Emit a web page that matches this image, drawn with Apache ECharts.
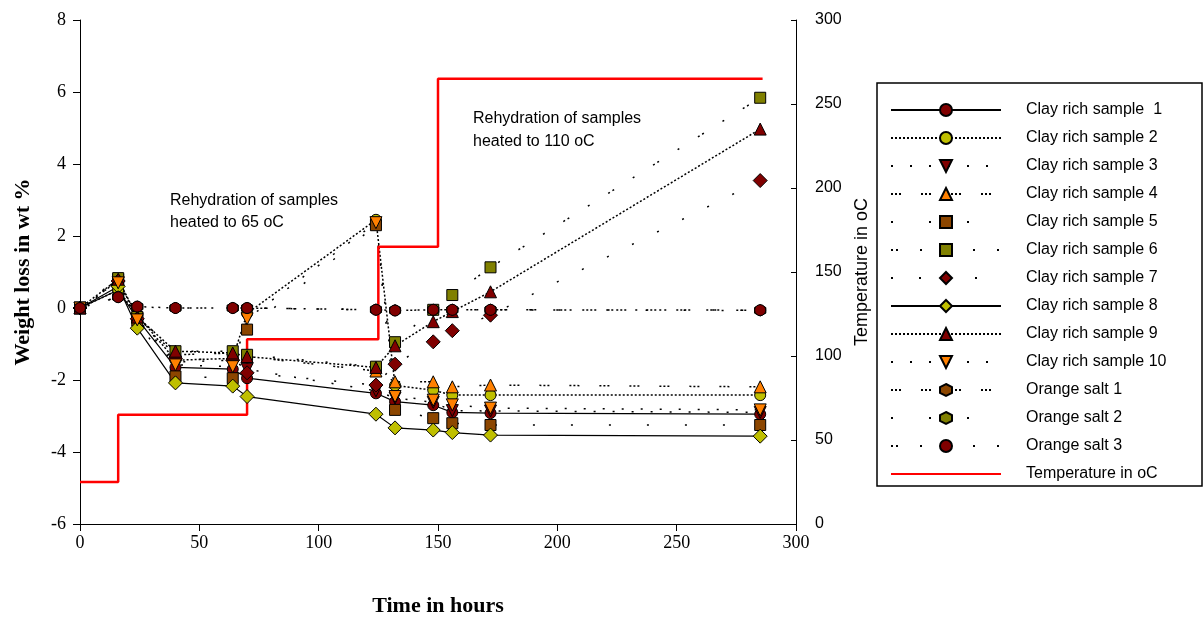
<!DOCTYPE html>
<html>
<head>
<meta charset="utf-8">
<script src="https://cdn.jsdelivr.net/npm/echarts@6/dist/echarts.min.js"></script>
<style>html,body{margin:0;padding:0;background:#fff}#c{width:1204px;height:618px}</style>
</head>
<body>
<div id="c"></div>
<script>
// ---- data ----
var times = [0, 16, 24, 40, 64, 70, 124, 132, 148, 156, 172, 285];
var clay1  = [0, 0.50, -0.30, -1.65, -1.70, -1.95, -2.37, -2.60, -2.70, -2.90, -2.92, -2.95];
var clay2  = [0, 0.50, -0.20, -1.45, -1.40, -0.15, 2.45, -2.15, -2.28, -2.42, -2.42, -2.42];
var clay3  = [0, 0.70, -0.30, -1.50, -1.45, -1.70, -2.30, -2.50, -2.62, -2.85, -2.86, -2.90];
var clay4  = [0, 0.75, -0.25, -1.30, -1.25, -1.35, -1.75, -2.05, -2.05, -2.19, -2.14, -2.19];
var clay5  = [0, 0.80, -0.35, -1.90, -1.95, -0.60, 2.30, -2.83, -3.06, -3.20, -3.25, -3.25];
var clay6  = [0, 0.83, -0.25, -1.20, -1.20, -1.30, -1.63, -0.95, -0.05, 0.36, 1.13, 5.84];
var clay7  = [0, 0.75, -0.30, -1.40, -1.45, -1.80, -2.14, -1.56, -0.94, -0.63, -0.20, 3.54];
var clay8  = [0, 0.60, -0.56, -2.08, -2.17, -2.46, -2.95, -3.33, -3.39, -3.46, -3.53, -3.56];
var clay9  = [0, 0.80, -0.25, -1.20, -1.25, -1.35, -1.65, -1.05, -0.38, -0.10, 0.45, 4.97];
var clay10 = [0, 0.70, -0.33, -1.58, -1.63, -0.30, 2.37, -2.46, -2.56, -2.69, -2.78, -2.83];
var salt1  = [0, 0.30, 0.04, 0.00, 0.00, 0.00, -0.05, -0.07, -0.05, -0.05, -0.05, -0.06];
var salt2  = [0, 0.32, 0.03, 0.00, 0.00, 0.00, -0.04, -0.06, -0.05, -0.05, -0.05, -0.07];
var salt3  = [0, 0.30, 0.04, 0.00, 0.00, 0.00, -0.05, -0.07, -0.05, -0.05, -0.05, -0.06];
var tempTimes = [0, 16, 70, 125, 150, 286];
var tempValues = [25, 65, 110, 165, 265, 265];
var leftTicks = {min: -6, max: 8, interval: 2};
var rightTicks = {min: 0, max: 300, interval: 50};
var xTicks = {min: 0, max: 300, interval: 50};

// ---- styles ----
var maroon = '#800000', ygreen = '#BFBF00', orange = '#FF8000', brown = '#8C4600', olive = '#808000';
var hex = 'path://M0,-10L8.66,-5L8.66,5L0,10L-8.66,5L-8.66,-5Z';

function pairs(xs, ys) { return xs.map(function (x, i) { return [x, ys[i]]; }); }

function mk(name, ys, symbol, size, color, dash, rot, width) {
  return {
    name: name, type: 'line', yAxisIndex: 0, data: pairs(times, ys),
    symbol: symbol, symbolSize: size, symbolRotate: rot || 0, showAllSymbol: true,
    lineStyle: {color: '#000', width: width || 1.5, type: dash},
    itemStyle: {color: color, borderColor: '#000', borderWidth: 1},
    emphasis: {disabled: true}, animation: false
  };
}

var p3 = [2, 17], p4 = [2, 2, 2, 2, 2, 20], p5 = [2, 36], p6 = [2, 3, 2, 22, 2, 22], p7 = [2, 26];

var series = [
  mk('Clay rich sample  1', clay1, 'circle', 11, maroon, 'solid', 0, 1.2),
  mk('Clay rich sample 2', clay2, 'circle', 11, ygreen, [2, 2]),
  mk('Clay rich sample 3', clay3, 'triangle', 12, maroon, p3, 180),
  mk('Clay rich sample 4', clay4, 'triangle', 12, orange, p4),
  mk('Clay rich sample 5', clay5, 'rect', 11, brown, p5),
  mk('Clay rich sample 6', clay6, 'rect', 11, olive, p6),
  mk('Clay rich sample 7', clay7, 'diamond', 14, maroon, p7),
  mk('Clay rich sample 8', clay8, 'diamond', 14, ygreen, 'solid', 0, 1.2),
  mk('Clay rich sample 9', clay9, 'triangle', 12, maroon, [2, 2]),
  mk('Clay rich sample 10', clay10, 'triangle', 12, orange, p3, 180),
  mk('Orange salt 1', salt1, hex, 11, brown, p4),
  mk('Orange salt 2', salt2, hex, 11, olive, p5),
  mk('Orange salt 3', salt3, 'circle', 11, maroon, p6),
  {
    name: 'Temperature in oC', type: 'line', yAxisIndex: 1, data: pairs(tempTimes, tempValues),
    step: 'end', symbol: 'none', lineStyle: {color: '#FF0000', width: 2.5},
    itemStyle: {color: '#FF0000'}, emphasis: {disabled: true}, animation: false
  }
];

var legendData = series.map(function (s) {
  if (s.yAxisIndex === 1) {
    return {name: s.name, itemStyle: {color: 'rgba(0,0,0,0)', borderColor: 'rgba(0,0,0,0)', borderWidth: 0}};
  }
  return {name: s.name};
});

var serif = 'Liberation Serif', sans = 'Liberation Sans';
var chart = echarts.init(document.getElementById('c'));
chart.setOption({
  animation: false,
  backgroundColor: '#fff',
  grid: {left: 80, right: 408, top: 20, bottom: 94, containLabel: false, outerBoundsMode: 'none'},
  xAxis: {
    type: 'value', min: xTicks.min, max: xTicks.max, interval: xTicks.interval,
    name: 'Time in hours', nameLocation: 'middle', nameGap: 71,
    nameTextStyle: {fontFamily: serif, fontWeight: 'bold', fontSize: 22, color: '#000'},
    axisLine: {onZero: false, lineStyle: {color: '#000', width: 1}},
    axisTick: {show: true, length: 7, lineStyle: {color: '#000'}},
    axisLabel: {fontFamily: serif, fontSize: 18, color: '#000', margin: 10},
    splitLine: {show: false}
  },
  yAxis: [{
    type: 'value', min: leftTicks.min, max: leftTicks.max, interval: leftTicks.interval,
    position: 'left',
    name: 'Weight loss in wt %', nameLocation: 'middle', nameGap: 46, nameRotate: 90,
    nameTextStyle: {fontFamily: serif, fontWeight: 'bold', fontSize: 22, color: '#000'},
    axisLine: {show: true, lineStyle: {color: '#000', width: 1}},
    axisTick: {show: true, length: 7, lineStyle: {color: '#000'}},
    axisLabel: {fontFamily: serif, fontSize: 18, color: '#000', margin: 14},
    splitLine: {show: false}
  }, {
    type: 'value', min: rightTicks.min, max: rightTicks.max, interval: rightTicks.interval,
    position: 'right',
    name: 'Temperature in oC', nameLocation: 'middle', nameGap: 57, nameRotate: 90,
    nameTextStyle: {fontFamily: sans, fontSize: 18, color: '#000'},
    axisLine: {show: true, lineStyle: {color: '#000', width: 1}},
    axisTick: {show: true, inside: true, length: 5, lineStyle: {color: '#000'}},
    axisLabel: {fontFamily: sans, fontSize: 16, color: '#000', margin: 19},
    splitLine: {show: false}
  }],
  legend: {
    orient: 'vertical', left: 890, top: 102, padding: 0, itemWidth: 110, itemHeight: 15, itemGap: 12,
    selectedMode: false,
    textStyle: {fontFamily: sans, fontSize: 16, color: '#000', padding: [0, 0, 0, 20]},
    data: legendData
  },
  graphic: [
    {type: 'rect', shape: {x: 877, y: 83, width: 325, height: 403}, style: {fill: 'none', stroke: '#000', lineWidth: 1.5}, z: 100},
    {type: 'text', left: 170, top: 190, style: {text: 'Rehydration of samples\nheated to 65 oC', font: '16px "Liberation Sans"', fill: '#000', lineHeight: 22}},
    {type: 'text', left: 473, top: 107, style: {text: 'Rehydration of samples\nheated to 110 oC', font: '16px "Liberation Sans"', fill: '#000', lineHeight: 23}}
  ],
  series: series
});
</script>
</body>
</html>
